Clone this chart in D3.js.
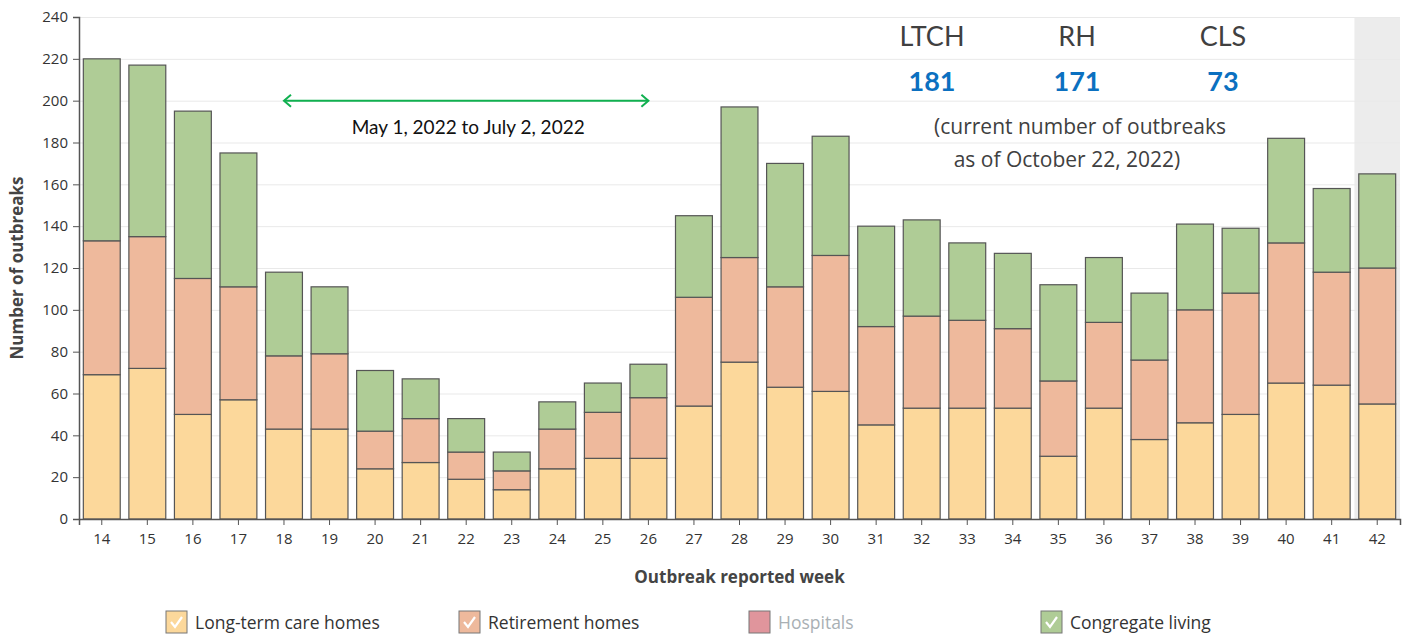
<!DOCTYPE html>
<html>
<head>
<meta charset="utf-8">
<script src="https://cdn.jsdelivr.net/npm/d3@7"></script>
<style>
  body { margin: 0; background: #fff; }
  svg { display: block; font-family: "Open Sans", sans-serif; }
  .axis path, .axis line { stroke: #555; }
  .axis text { fill: #333; font-size: 15px; font-family: "Open Sans", sans-serif; }
  .grid line { stroke: #e9e9e9; }
  .grid path { display: none; }
</style>
</head>
<body>
<svg id="chart" width="1408" height="635"></svg>
<script>
// weeks on the x axis
var weeks = ["14","15","16","17","18","19","20","21","22","23","24","25","26","27","28",
             "29","30","31","32","33","34","35","36","37","38","39","40","41","42"];
// outbreaks per week, by setting
var ltch     = [69,72,50,57,43,43,24,27,19,14,24,29,29,54,75,63,61,45,53,53,53,30,53,38,46,50,65,64,55];
var rh       = [64,63,65,54,35,36,18,21,13, 9,19,22,29,52,50,48,65,47,44,42,38,36,41,38,54,58,67,54,65];
var hospital = [ 0, 0, 0, 0, 0, 0, 0, 0, 0, 0, 0, 0, 0, 0, 0, 0, 0, 0, 0, 0, 0, 0, 0, 0, 0, 0, 0, 0, 0];
var cls      = [87,82,80,64,40,32,29,19,16, 9,13,14,16,39,72,59,57,48,46,37,36,46,31,32,41,31,50,40,45];

var seriesNames = ["Long-term care homes","Retirement homes","Hospitals","Congregate living"];
var seriesColors = ["#fcd89b","#eeb99c","#e0959c","#afcc96"];
var yTicks = [0,20,40,60,80,100,120,140,160,180,200,220,240];

var current = [{label:"LTCH", value:181},{label:"RH", value:171},{label:"CLS", value:73}];
var periodStart = "18", periodEnd = "26";

(function(){
	var svg = d3.select("#chart");
	var margin = {top: 17, right: 8, bottom: 116, left: 79};
	var width = +svg.attr("width") - margin.left - margin.right;
	var height = +svg.attr("height") - margin.top - margin.bottom;

	var rows = weeks.map(function(w, i){
		return {week: w, ltch: ltch[i], rh: rh[i], hosp: hospital[i], cls: cls[i]};
	});
	var keys = ["ltch","rh","hosp","cls"];

	var x = d3.scaleBand().domain(weeks).range([0, width]).paddingInner(0.19).paddingOuter(0.095);
	var y = d3.scaleLinear().domain([0, 240]).range([height, 0]);

	var g = svg.append("g").attr("transform", "translate(" + margin.left + "," + margin.top + ")");

	// highlighted last week
	g.append("rect")
		.attr("x", x(weeks[weeks.length-1]) - x.step()*x.paddingInner()/2)
		.attr("y", 0)
		.attr("width", x.step())
		.attr("height", height)
		.attr("fill", "#ececec");

	g.append("g").attr("class", "grid")
		.call(d3.axisLeft(y).tickValues(yTicks).tickSize(-width).tickFormat(""));

	var stack = d3.stack().keys(keys)(rows);
	g.append("g").selectAll("g")
		.data(stack)
		.enter().append("g")
			.attr("fill", function(d, i){ return seriesColors[i]; })
		.selectAll("rect")
		.data(function(d){ return d.filter(function(p){ return p[1] > p[0]; }); })
		.enter().append("rect")
			.attr("x", function(d){ return x(d.data.week); })
			.attr("y", function(d){ return y(d[1]); })
			.attr("width", x.bandwidth())
			.attr("height", function(d){ return y(d[0]) - y(d[1]); })
			.attr("stroke", "#555")
			.attr("stroke-width", 1.2);

	g.append("g").attr("class", "axis")
		.attr("transform", "translate(0," + height + ")")
		.call(d3.axisBottom(x).tickSizeOuter(0).tickSize(6).tickPadding(8));

	g.append("g").attr("class", "axis")
		.call(d3.axisLeft(y).tickValues(yTicks).tickSizeOuter(0).tickSize(6).tickPadding(5));

	g.selectAll(".axis path").attr("stroke-width", 1.5);

	svg.append("text")
		.attr("transform", "translate(23," + (margin.top + height/2) + ") rotate(-90)")
		.attr("text-anchor", "middle")
		.attr("font-size", 17).attr("font-weight", "bold").attr("fill", "#444")
		.text("Number of outbreaks");

	svg.append("text")
		.attr("x", margin.left + width/2).attr("y", 583)
		.attr("text-anchor", "middle")
		.attr("font-size", 17).attr("font-weight", "bold").attr("fill", "#444")
		.text("Outbreak reported week");

	// period arrow
	var ax1 = x(periodStart) + x.bandwidth()/2, ax2 = x(periodEnd) + x.bandwidth()/2, ay = y(200);
	var green = "#10b050";
	g.append("line").attr("x1", ax1).attr("x2", ax2).attr("y1", ay).attr("y2", ay)
		.attr("stroke", green).attr("stroke-width", 2);
	g.append("path").attr("d", "M" + (ax1+7) + "," + (ay-6) + "L" + ax1 + "," + ay + "L" + (ax1+7) + "," + (ay+6))
		.attr("fill", "none").attr("stroke", green).attr("stroke-width", 2);
	g.append("path").attr("d", "M" + (ax2-7) + "," + (ay-6) + "L" + ax2 + "," + ay + "L" + (ax2-7) + "," + (ay+6))
		.attr("fill", "none").attr("stroke", green).attr("stroke-width", 2);
	g.append("text").attr("x", (ax1+ax2)/2 + 2).attr("y", ay + 33)
		.attr("text-anchor", "middle").attr("font-family", "Lato, sans-serif")
		.attr("font-size", 19).attr("fill", "#111")
		.text("May 1, 2022 to July 2, 2022");

	// current outbreak counts
	var cx = [932, 1077, 1223];
	var box = svg.append("g").attr("font-family", "Lato, sans-serif").attr("text-anchor", "middle");
	box.selectAll(".lab").data(current).enter().append("text")
		.attr("x", function(d, i){ return cx[i]; }).attr("y", 46)
		.attr("font-size", 27).attr("fill", "#404040")
		.text(function(d){ return d.label; });
	box.selectAll(".val").data(current).enter().append("text")
		.attr("x", function(d, i){ return cx[i]; }).attr("y", 91)
		.attr("font-size", 27).attr("font-weight", "bold").attr("fill", "#0b70c0")
		.text(function(d){ return d.value; });
	box.append("text").attr("x", 1080).attr("y", 134)
		.attr("font-family", "Open Sans, sans-serif")
		.attr("font-size", 21).attr("fill", "#404040")
		.text("(current number of outbreaks");
	box.append("text").attr("x", 1067).attr("y", 167)
		.attr("font-family", "Open Sans, sans-serif")
		.attr("font-size", 21).attr("fill", "#404040")
		.text("as of October 22, 2022)");

	// legend
	var legX = [166, 459, 749, 1041];
	var legend = svg.append("g").selectAll("g")
		.data(seriesNames).enter().append("g")
		.attr("transform", function(d, i){ return "translate(" + legX[i] + ",611)"; });
	legend.append("rect")
		.attr("width", 21).attr("height", 22)
		.attr("fill", function(d, i){ return seriesColors[i]; })
		.attr("stroke", "#777").attr("stroke-width", 1);
	legend.filter(function(d, i){ return i !== 2; }).append("path")
		.attr("d", "M5,11 L9,16 L16,6")
		.attr("fill", "none").attr("stroke", "#fff").attr("stroke-width", 2.2);
	legend.append("text")
		.attr("x", 29).attr("y", 18)
		.attr("font-size", 17.5)
		.attr("fill", function(d, i){ return i === 2 ? "#a9b0b4" : "#333"; })
		.text(function(d){ return d; });
})();
</script>
</body>
</html>
